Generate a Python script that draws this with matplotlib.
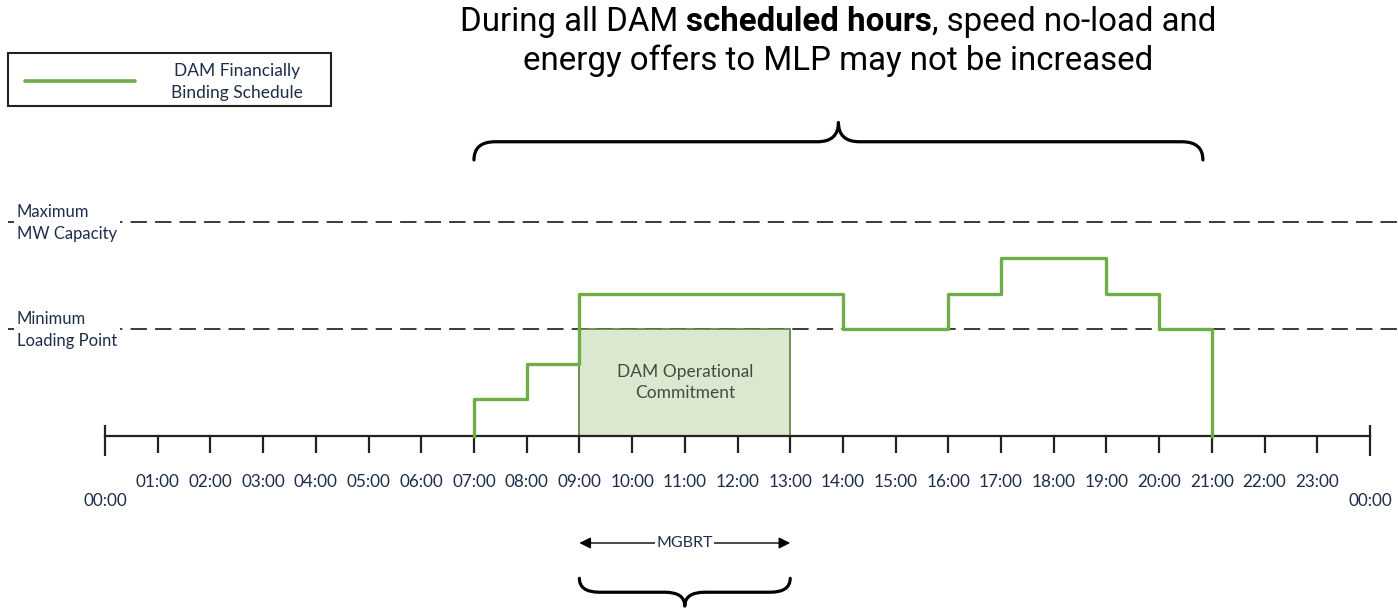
import numpy as np
import matplotlib
matplotlib.use("Agg")
import matplotlib.pyplot as plt
from matplotlib.path import Path
from matplotlib.patches import PathPatch, Rectangle
from matplotlib.lines import Line2D

# schedule data (hour breakpoints and MW level in each block)
sched_hours = [7, 8, 9, 14, 16, 17, 19, 20, 21]
sched_mw = [35, 67, 133, 100, 133, 166, 133, 100]

min_loading = 100
max_capacity = 200

commit_start = 9
commit_end = 13

hour_labels = ["%02d:00" % h for h in range(1, 24)]
end_labels = ["00:00", "00:00"]

scheduled_span = [7, 20.83]   # top brace
mgbrt_span = [9, 13]          # MGBRT arrow / bottom brace

GREEN = "#70ad47"
TXT = "#1f2d4a"
SMALL_FONT = ["Lato", "DejaVu Sans"]
TOP_FONT = ["Liberation Sans Narrow", "Roboto", "DejaVu Sans"]

W, H = 1398, 610
PXH = 1265 / 24.0    # pixels per hour
PXU = 1.07           # pixels per MW unit

fig = plt.figure(figsize=(W / 100, H / 100), dpi=100)
ax = fig.add_axes([0, 0, 1, 1])
ax.set_xlim(-105 / PXH, (W - 105) / PXH)
ax.set_ylim(-(H - 436) / PXU, 436 / PXU)
ax.axis("off")

x_left = -97 / PXH
x_right = (W - 105) / PXH

# dashed reference lines
dash = (0, (16 / 1.7, 8 / 1.7))
ax.plot([x_left, x_right], [max_capacity, max_capacity], color="#222222", lw=1.25,
        linestyle=dash, zorder=1)
ax.plot([x_left, x_right], [min_loading, min_loading], color="#222222", lw=1.25,
        linestyle=dash, zorder=1)

lab_x = -88 / PXH
ax.text(lab_x, max_capacity - 1, "Maximum\nMW Capacity", ha="left", va="center",
        fontsize=12, color=TXT, family=SMALL_FONT, linespacing=1.4,
        bbox=dict(facecolor="white", edgecolor="none", pad=2), zorder=2)
ax.text(lab_x, min_loading - 1, "Minimum\nLoading Point", ha="left", va="center",
        fontsize=12, color=TXT, family=SMALL_FONT, linespacing=1.4,
        bbox=dict(facecolor="white", edgecolor="none", pad=2), zorder=2)

# commitment box
ax.add_patch(Rectangle((commit_start, 0), commit_end - commit_start, min_loading,
                       facecolor="#dbe8d0", edgecolor="#5a7f3a", lw=1.2, zorder=3))
ax.text((commit_start + commit_end) / 2, min_loading * 0.5, "DAM Operational\nCommitment",
        ha="center", va="center", fontsize=12.5, color="#3f4d3c", family=SMALL_FONT,
        linespacing=1.45, zorder=4)

# time axis
ax.plot([0, 24], [0, 0], color="#222222", lw=1.6, zorder=4)
ax.vlines(range(1, 24), -16, 0, color="#222222", lw=1.6, zorder=4)
ax.vlines([0, 24], -19, 10, color="#222222", lw=1.6, zorder=4)
for h, lab in zip(range(1, 24), hour_labels):
    ax.text(h, -43, lab, ha="center", va="center", fontsize=12.3, color=TXT,
            family=SMALL_FONT)
for h, lab in zip([0, 24], end_labels):
    ax.text(h, -61, lab, ha="center", va="center", fontsize=12.3, color=TXT,
            family=SMALL_FONT)

# financially binding schedule (stair line)
xs = [sched_hours[0]] + sched_hours + [sched_hours[-1]]
ys = [0] + sched_mw + [sched_mw[-1], 0]
xs = xs[:len(ys)]
ax.step(xs, ys, where="post", color=GREEN, lw=2.4, zorder=5)


def brace(x0, x1, y_end, y_mid, y_tip, r):
    xc = (x0 + x1) / 2
    verts = [(x0, y_end), (x0, y_mid), (x0 + r, y_mid),
             (xc - r, y_mid),
             (xc, y_mid), (xc, y_tip),
             (xc, y_mid), (xc + r, y_mid),
             (x1 - r, y_mid),
             (x1, y_mid), (x1, y_end)]
    codes = [Path.MOVETO, Path.CURVE3, Path.CURVE3,
             Path.LINETO,
             Path.CURVE3, Path.CURVE3,
             Path.CURVE3, Path.CURVE3,
             Path.LINETO,
             Path.CURVE3, Path.CURVE3]
    return PathPatch(Path(verts, codes), facecolor="none", edgecolor="black",
                     lw=2.3, capstyle="round", joinstyle="round")


ax.add_patch(brace(scheduled_span[0], scheduled_span[1], 258, 275, 293, 0.4))
ax.add_patch(brace(mgbrt_span[0], mgbrt_span[1], -133, -146, -159, 0.38))

# MGBRT arrow
ax.annotate("", xy=(mgbrt_span[1], -100), xytext=(mgbrt_span[0], -100),
            arrowprops=dict(arrowstyle="<|-|>", color="black", lw=1.0,
                            mutation_scale=17, shrinkA=0, shrinkB=0))
ax.text(sum(mgbrt_span) / 2, -100, "MGBRT", ha="center", va="center",
        fontsize=11.5, color=TXT, family=SMALL_FONT,
        bbox=dict(facecolor="white", edgecolor="none", pad=1))

# legend box (drawn in figure pixels)
def fx(px):
    return px / W


def fy(py):
    return 1 - py / H


fig.add_artist(Rectangle((fx(8), fy(106)), fx(331) - fx(8), fy(53) - fy(106),
                         transform=fig.transFigure, facecolor="white",
                         edgecolor="#222222", lw=1.5))
fig.add_artist(Line2D([fx(25), fx(135)], [fy(81), fy(81)], transform=fig.transFigure,
                      color=GREEN, lw=2.6, solid_capstyle="round"))
fig.text(fx(237), fy(82), "DAM Financially\nBinding Schedule", ha="center", va="center",
         fontsize=12.5, color=TXT, family=SMALL_FONT, linespacing=1.4)

# top annotation with bold part
renderer = fig.canvas.get_renderer()
parts = [("During all DAM ", "normal"), ("scheduled hours", "bold"),
         (", speed no-load and", "normal")]
size = 23.8
texts = []
for s, w in parts:
    texts.append(fig.text(0, fy(22), s, fontsize=size, fontweight=w,
                          family=TOP_FONT, va="center", ha="left"))
widths = [t.get_window_extent(renderer).width for t in texts]
x = 838 - sum(widths) / 2
for t, wd in zip(texts, widths):
    t.set_x(fx(x))
    x += wd
fig.text(fx(838), fy(61), "energy offers to MLP may not be increased",
         fontsize=size, family=TOP_FONT, va="center", ha="center")

fig.savefig("out.png", dpi=100)
